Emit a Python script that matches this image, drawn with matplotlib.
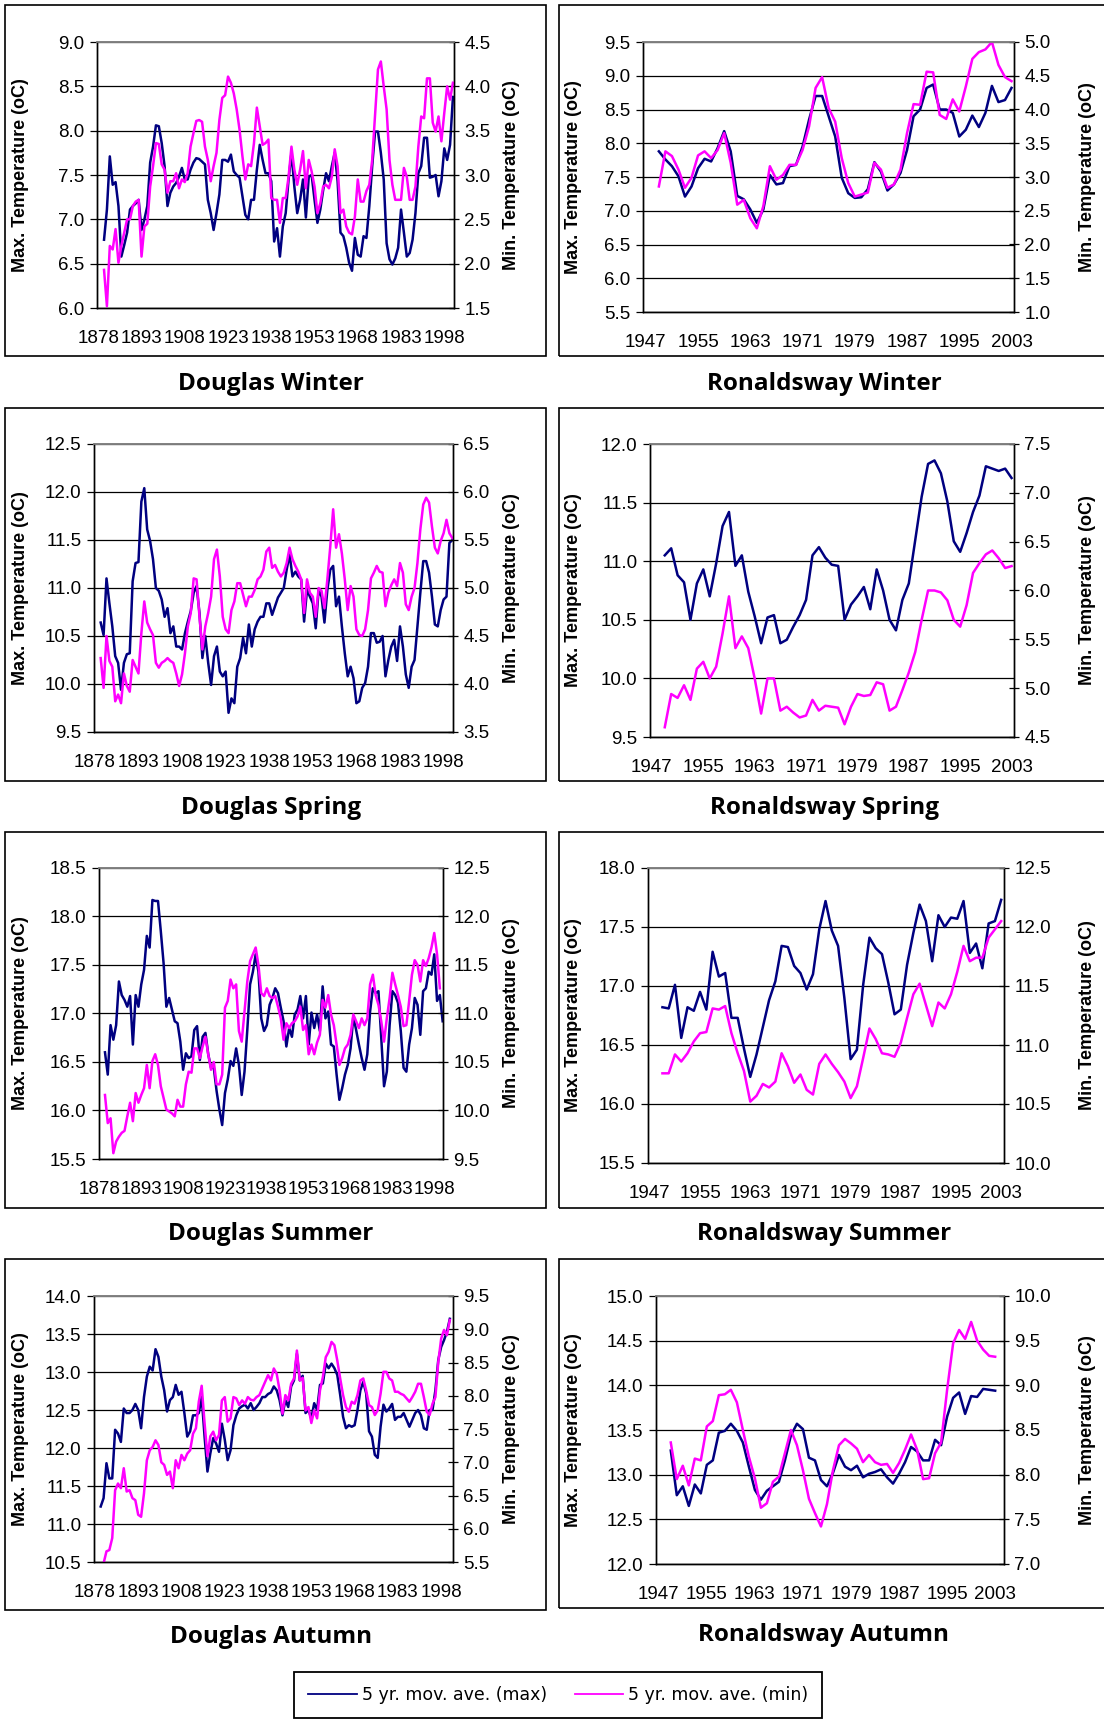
import matplotlib.pyplot as plt
import numpy as np
from matplotlib.patches import Rectangle
from matplotlib.lines import Line2D
from matplotlib.ticker import FormatStrFormatter

W, H = 1104, 1719
MAX_COLOR = '#000080'
MIN_COLOR = '#ff00ff'

plt.rcParams['font.family'] = ['Liberation Sans', 'DejaVu Sans']

# ---- data (5 yr moving averages) ----
douglas_years = np.arange(1880, 2002)
ronaldsway_years = np.arange(1949, 2004)

dw_max = [6.77, 7.11, 7.71, 7.39, 7.42, 7.15, 6.58, 6.71, 6.85, 7.11,
          7.15, 7.18, 7.22, 6.88, 7.0, 7.15, 7.64, 7.82, 8.06, 8.05,
          7.86, 7.6, 7.15, 7.3, 7.37, 7.41, 7.48, 7.58, 7.45, 7.45,
          7.56, 7.64, 7.69, 7.68, 7.65, 7.62, 7.22, 7.07, 6.88, 7.07,
          7.28, 7.67, 7.67, 7.65, 7.73, 7.54, 7.5, 7.47, 7.26, 7.05,
          7.0, 7.22, 7.22, 7.56, 7.84, 7.67, 7.52, 7.52, 7.43, 6.75,
          6.9, 6.58, 6.92, 7.07, 7.45, 7.75, 7.37, 7.07, 7.22, 7.45,
          7.02, 7.48, 7.5, 7.22, 6.96, 7.11, 7.33, 7.52, 7.43, 7.6,
          7.75, 7.43, 6.85, 6.81, 6.68, 6.51, 6.42, 6.79, 6.6, 6.58,
          6.81, 6.79, 7.15, 7.6, 7.99, 7.99, 7.75, 7.45, 6.73, 6.55,
          6.49, 6.56, 6.68, 7.11, 6.85, 6.58, 6.62, 6.77, 7.07, 7.52,
          7.6, 7.92, 7.92, 7.47, 7.48, 7.5, 7.26, 7.43, 7.8, 7.67,
          7.84, 8.38]
dw_min = [1.93, 1.52, 2.2, 2.16, 2.39, 2.01, 2.2, 2.35, 2.5, 2.5,
          2.65, 2.7, 2.72, 2.08, 2.42, 2.45, 2.87, 3.1, 3.36, 3.35,
          3.12, 3.06, 2.8, 2.93, 2.93, 3.02, 2.85, 2.95, 2.92, 3.02,
          3.32, 3.47, 3.61, 3.62, 3.6, 3.32, 3.17, 2.93, 3.1, 3.25,
          3.62, 3.87, 3.9, 4.11, 4.04, 3.92, 3.74, 3.51, 3.21, 2.95,
          3.12, 3.1, 3.36, 3.76, 3.55, 3.34, 3.36, 3.4, 2.74, 2.72,
          2.72, 2.46, 2.74, 2.74, 2.98, 3.32, 3.06, 2.89, 3.06, 3.27,
          2.85, 3.17, 3.04, 2.87, 2.57, 2.68, 2.87, 2.89, 2.85, 2.98,
          3.29, 3.1, 2.57, 2.61, 2.42, 2.35, 2.33, 2.53, 2.95, 2.7,
          2.7, 2.82, 2.89, 3.17, 3.68, 4.19, 4.28, 4.0, 3.74, 3.17,
          2.89, 2.72, 2.72, 2.72, 3.08, 2.98, 2.72, 2.72, 2.87, 3.32,
          3.66, 3.64, 4.09, 4.09, 3.59, 3.49, 3.66, 3.38, 3.7, 4.0,
          3.85, 4.04]

dsp_max = [10.64, 10.51, 11.1, 10.84, 10.6, 10.29, 10.22, 9.94, 10.22, 10.31,
           10.32, 11.07, 11.26, 11.27, 11.9, 12.04, 11.61, 11.49, 11.3, 11.0,
           10.97, 10.88, 10.7, 10.79, 10.53, 10.6, 10.39, 10.39, 10.36, 10.53,
           10.65, 10.76, 10.95, 11.02, 10.74, 10.27, 10.5, 10.22, 9.99, 10.29,
           10.39, 10.13, 10.08, 10.13, 9.7, 9.85, 9.8, 10.18, 10.27, 10.48,
           10.32, 10.62, 10.39, 10.57, 10.65, 10.7, 10.7, 10.84, 10.84, 10.72,
           10.81, 10.9, 10.95, 11.0, 11.19, 11.35, 11.12, 11.17, 11.12, 11.09,
           10.65, 10.98, 10.91, 10.84, 10.58, 10.98, 10.91, 10.64, 10.98, 11.19,
           11.23, 10.81, 10.91, 10.6, 10.32, 10.08, 10.18, 10.06, 9.8, 9.82,
           9.96, 10.01, 10.18, 10.53, 10.53, 10.43, 10.44, 10.5, 10.08, 10.25,
           10.39, 10.46, 10.24, 10.6, 10.39, 10.1, 9.96, 10.18, 10.25, 10.6,
           10.95, 11.28, 11.28, 11.16, 10.91, 10.62, 10.6, 10.77, 10.88, 10.91,
           11.47, 11.5]
dsp_min = [4.27, 3.96, 4.5, 4.24, 4.18, 3.82, 3.89, 3.8, 4.11, 3.98,
           3.92, 4.25, 4.18, 4.11, 4.53, 4.86, 4.64, 4.57, 4.51, 4.22,
           4.17, 4.22, 4.24, 4.27, 4.24, 4.22, 4.11, 3.98, 4.1, 4.32,
           4.6, 4.74, 5.1, 5.09, 4.7, 4.36, 4.6, 4.74, 4.91, 5.3,
           5.4, 5.12, 4.7, 4.57, 4.53, 4.77, 4.86, 5.05, 5.05, 4.93,
           4.81, 4.91, 4.91, 4.98, 5.09, 5.12, 5.19, 5.38, 5.42, 5.21,
           5.24, 5.17, 5.12, 5.16, 5.26, 5.42, 5.3, 5.23, 5.17, 5.09,
           4.74, 5.09, 4.95, 4.91, 4.7, 5.0, 4.97, 4.79, 5.09, 5.43,
           5.82, 5.42, 5.56, 5.36, 5.09, 4.77, 5.02, 4.91, 4.57, 4.51,
           4.5, 4.57, 4.77, 5.1, 5.16, 5.23, 5.17, 5.16, 4.81, 4.95,
           5.03, 5.09, 5.02, 5.26, 5.16, 4.83, 4.77, 4.91, 5.0, 5.26,
           5.61, 5.87, 5.94, 5.89, 5.64, 5.42, 5.36, 5.49, 5.57, 5.71,
           5.57, 5.52]

dsu_max = [16.6, 16.37, 16.88, 16.73, 16.88, 17.33, 17.19, 17.14, 17.07, 17.18,
           16.68, 17.19, 17.07, 17.3, 17.45, 17.8, 17.68, 18.17, 18.16, 18.16,
           17.85, 17.52, 17.07, 17.16, 17.04, 16.92, 16.9, 16.71, 16.42, 16.59,
           16.54, 16.56, 16.83, 16.87, 16.52, 16.76, 16.8, 16.58, 16.44, 16.44,
           16.2, 16.01, 15.85, 16.18, 16.32, 16.51, 16.46, 16.64, 16.47, 16.16,
           16.4, 16.83, 17.3, 17.43, 17.61, 17.43, 16.95, 16.82, 16.88, 17.09,
           17.16, 17.26, 17.21, 17.06, 16.92, 16.66, 16.85, 16.76, 16.99, 17.04,
           17.18, 16.95, 17.18, 16.68, 17.01, 16.85, 16.99, 16.82, 17.28, 16.95,
           17.02, 16.68, 16.66, 16.37, 16.11, 16.23, 16.37, 16.47, 16.64, 16.97,
           16.83, 16.68, 16.54, 16.42, 16.58, 17.02, 17.26, 17.21, 17.23, 16.75,
           16.25, 16.4, 16.88, 17.23, 17.19, 17.11, 16.82, 16.44, 16.4, 16.68,
           16.85, 17.16, 17.09, 16.78, 17.23, 17.26, 17.43, 17.4, 17.61, 17.13,
           17.19, 16.92]
dsu_min = [10.16, 9.87, 9.92, 9.56, 9.68, 9.73, 9.77, 9.79, 9.94, 10.08,
           9.89, 10.18, 10.08, 10.16, 10.23, 10.47, 10.23, 10.51, 10.58, 10.47,
           10.25, 10.13, 10.01, 9.99, 9.97, 9.94, 10.11, 10.04, 10.04, 10.27,
           10.4, 10.39, 10.64, 10.64, 10.54, 10.66, 10.76, 10.58, 10.42, 10.5,
           10.27, 10.27, 10.37, 11.06, 11.13, 11.35, 11.26, 11.3, 10.82, 10.71,
           11.02, 11.33, 11.54, 11.61, 11.68, 11.5, 11.21, 11.18, 11.26, 11.18,
           11.16, 11.18, 11.07, 10.95, 10.73, 10.9, 10.85, 10.9, 10.92, 10.97,
           11.07, 10.83, 10.88, 10.58, 10.68, 10.58, 10.7, 10.78, 11.14, 11.06,
           11.19, 10.99, 10.88, 10.68, 10.47, 10.54, 10.64, 10.68, 10.78, 10.99,
           10.92, 10.85, 10.95, 10.88, 10.95, 11.3, 11.4, 11.19, 11.09, 10.92,
           10.71, 10.95, 11.16, 11.42, 11.3, 11.19, 11.07, 10.87, 10.88, 11.13,
           11.4, 11.55, 11.5, 11.33, 11.55, 11.49, 11.57, 11.68, 11.83, 11.61,
           11.26, np.nan]

da_max = [11.23, 11.34, 11.8, 11.6, 11.6, 12.24, 12.19, 12.08, 12.52, 12.46,
          12.46, 12.5, 12.58, 12.5, 12.26, 12.67, 12.94, 13.07, 13.02, 13.3,
          13.2, 12.94, 12.76, 12.48, 12.63, 12.67, 12.83, 12.7, 12.74, 12.46,
          12.15, 12.22, 12.43, 12.43, 12.46, 12.67, 12.15, 11.69, 11.93, 12.13,
          12.06, 11.95, 12.32, 12.11, 11.84, 11.97, 12.3, 12.43, 12.52, 12.55,
          12.57, 12.52, 12.59, 12.5, 12.54, 12.59, 12.67, 12.67, 12.71, 12.73,
          12.81, 12.76, 12.63, 12.43, 12.63, 12.54, 12.81, 12.89, 13.24, 12.89,
          12.95, 12.46, 12.5, 12.39, 12.59, 12.5, 12.83, 12.85, 13.11, 13.05,
          13.11, 13.05, 12.96, 12.7, 12.41, 12.26, 12.3, 12.28, 12.3, 12.5,
          12.76, 12.87, 12.72, 12.22, 12.15, 11.91, 11.87, 12.28, 12.57, 12.48,
          12.52, 12.58, 12.37, 12.41, 12.41, 12.46, 12.37, 12.28, 12.37, 12.46,
          12.5, 12.43, 12.26, 12.24, 12.5, 12.5, 12.76, 13.16, 13.33, 13.42,
          13.53, 13.7]
da_min = [np.nan, 5.48, 5.66, 5.68, 5.86, 6.58, 6.68, 6.61, 6.91, 6.56,
          6.58, 6.46, 6.43, 6.21, 6.18, 6.53, 7.03, 7.18, 7.23, 7.33,
          7.26, 7.0, 6.96, 6.81, 6.86, 6.61, 7.03, 6.91, 7.11, 7.03,
          7.13, 7.18, 7.43, 7.51, 7.91, 8.15, 7.59, 7.09, 7.39, 7.46,
          7.33, 7.41, 7.93, 7.98, 7.61, 7.66, 7.98, 7.96, 7.86, 7.93,
          7.88, 7.98, 7.94, 7.93, 7.98, 8.01, 8.11, 8.21, 8.31, 8.23,
          8.41, 8.33, 8.08, 7.73, 8.01, 7.93, 8.18, 8.26, 8.68, 8.23,
          8.27, 7.78, 7.83, 7.59, 7.78, 7.66, 8.08, 8.28, 8.58, 8.66,
          8.81, 8.76, 8.53, 8.26, 8.01, 7.83, 7.76, 7.91, 7.88, 8.01,
          8.23, 8.26, 8.08, 7.86, 7.83, 7.71, 7.78, 8.03, 8.36, 8.36,
          8.26, 8.23, 8.06, 8.06, 8.03, 8.01, 7.96, 7.91, 7.98, 8.06,
          8.18, 8.18, 7.98, 7.76, 7.71, 7.88, 7.98, 8.51, 8.86, 8.99,
          8.91, 9.14]

rw_max = [7.88, 7.76, 7.66, 7.51, 7.21, 7.36, 7.63, 7.77, 7.73, 7.93,
          8.18, 7.88, 7.22, 7.17, 7.02, 6.82, 7.02, 7.53, 7.39, 7.41,
          7.66, 7.68, 7.95, 8.35, 8.7, 8.7, 8.4, 8.1, 7.49, 7.26,
          7.19, 7.2, 7.32, 7.72, 7.58, 7.3, 7.39, 7.56, 7.9, 8.4,
          8.5, 8.82, 8.87, 8.5, 8.5, 8.45, 8.1, 8.2, 8.41, 8.24,
          8.45, 8.85, 8.61, 8.64, 8.82]
rw_min = [2.86, 3.38, 3.31, 3.11, 2.84, 2.99, 3.32, 3.38, 3.28, 3.4,
          3.65, 3.21, 2.59, 2.66, 2.39, 2.24, 2.57, 3.16, 2.96, 3.03,
          3.18, 3.18, 3.4, 3.75, 4.32, 4.48, 4.02, 3.82, 3.28, 2.91,
          2.71, 2.74, 2.77, 3.21, 3.11, 2.84, 2.89, 3.11, 3.65, 4.08,
          4.07, 4.56, 4.55, 3.92, 3.86, 4.15, 3.97, 4.34, 4.75, 4.85,
          4.89, 5.0, 4.66, 4.48, 4.42]

rsp_max = [11.05, 11.11, 10.88, 10.82, 10.5, 10.81, 10.93, 10.7, 10.98, 11.3,
           11.42, 10.96, 11.05, 10.74, 10.53, 10.3, 10.52, 10.54, 10.3, 10.33,
           10.44, 10.54, 10.67, 11.05, 11.12, 11.03, 10.97, 10.96, 10.5, 10.63,
           10.7, 10.78, 10.59, 10.93, 10.75, 10.5, 10.41, 10.67, 10.81, 11.18,
           11.55, 11.83, 11.86, 11.75, 11.51, 11.17, 11.08, 11.24, 11.42, 11.56,
           11.81, 11.79, 11.77, 11.79, 11.71]
rsp_min = [4.6, 4.94, 4.9, 5.03, 4.88, 5.2, 5.27, 5.1, 5.22, 5.56,
           5.94, 5.41, 5.53, 5.41, 5.1, 4.74, 5.1, 5.1, 4.77, 4.81,
           4.75, 4.7, 4.72, 4.88, 4.77, 4.82, 4.81, 4.8, 4.63, 4.81,
           4.94, 4.92, 4.93, 5.06, 5.04, 4.77, 4.81, 4.98, 5.16, 5.37,
           5.7, 6.0, 6.0, 5.98, 5.9, 5.7, 5.63, 5.85, 6.18, 6.28,
           6.37, 6.41, 6.33, 6.23, 6.25]

rsu_max = [16.82, 16.81, 17.01, 16.56, 16.82, 16.79, 16.95, 16.8, 17.29, 17.08,
           17.11, 16.73, 16.73, 16.47, 16.23, 16.42, 16.65, 16.88, 17.04, 17.34,
           17.33, 17.17, 17.11, 16.97, 17.1, 17.48, 17.72, 17.47, 17.34, 16.9,
           16.38, 16.46, 17.01, 17.41, 17.32, 17.27, 17.03, 16.76, 16.8, 17.18,
           17.45, 17.69, 17.55, 17.21, 17.6, 17.5, 17.58, 17.57, 17.72, 17.28,
           17.36, 17.15, 17.53, 17.55, 17.73]
rsu_min = [10.76, 10.76, 10.92, 10.86, 10.93, 11.03, 11.1, 11.11, 11.31, 11.3,
           11.33, 11.1, 10.93, 10.78, 10.52, 10.57, 10.67, 10.64, 10.69, 10.93,
           10.82, 10.68, 10.75, 10.62, 10.58, 10.84, 10.92, 10.84, 10.77, 10.69,
           10.55, 10.65, 10.89, 11.14, 11.05, 10.93, 10.92, 10.9, 11.02, 11.23,
           11.43, 11.52, 11.34, 11.16, 11.36, 11.31, 11.43, 11.62, 11.84, 11.71,
           11.74, 11.74, 11.91, 11.98, 12.05]

ra_max = [13.27, 12.77, 12.87, 12.65, 12.89, 12.79, 13.11, 13.16, 13.47, 13.49,
          13.57, 13.49, 13.36, 13.09, 12.83, 12.72, 12.82, 12.87, 12.92, 13.16,
          13.44, 13.57, 13.51, 13.19, 13.16, 12.94, 12.87, 13.02, 13.22, 13.09,
          13.05, 13.1, 12.97, 13.01, 13.03, 13.06, 12.97, 12.9, 13.01, 13.14,
          13.31, 13.26, 13.16, 13.16, 13.39, 13.33, 13.65, 13.86, 13.92, 13.68,
          13.88, 13.87, 13.96, 13.95, 13.94]
ra_min = [8.36, 7.95, 8.1, 7.88, 8.18, 8.16, 8.54, 8.6, 8.89, 8.9,
          8.95, 8.81, 8.5, 8.2, 7.96, 7.63, 7.68, 7.92, 7.98, 8.24,
          8.5, 8.33, 8.05, 7.73, 7.57, 7.42, 7.67, 8.05, 8.33, 8.4,
          8.35, 8.29, 8.14, 8.22, 8.14, 8.11, 8.12, 8.02, 8.13, 8.28,
          8.45, 8.28, 7.95, 7.96, 8.24, 8.36, 8.95, 9.47, 9.62, 9.52,
          9.71, 9.5, 9.4, 9.33, 9.32]

douglas_ticks = [1878, 1893, 1908, 1923, 1938, 1953, 1968, 1983, 1998]
ronaldsway_ticks = [1947, 1955, 1963, 1971, 1979, 1987, 1995, 2003]
legend_labels = ['5 yr. mov. ave. (max)', '5 yr. mov. ave. (min)']

fig = plt.figure(figsize=(W / 100, H / 100), dpi=100)


def px_rect(x0, y0, x1, y1):
    return [x0 / W, 1 - y1 / H, (x1 - x0) / W, (y1 - y0) / H]


def draw_panel(title, rect, frame, title_xy, label_x, years, vmax, vmin,
               left_lim, right_lim, xlim, xticks):
    # outer frame of the chart object
    fx0, fy0, fx1, fy1 = frame
    fig.add_artist(Rectangle((fx0 / W, 1 - fy1 / H), (fx1 - fx0) / W, (fy1 - fy0) / H,
                             transform=fig.transFigure, fill=False,
                             edgecolor='black', linewidth=1.2))

    ax = fig.add_axes(px_rect(*rect))
    ax2 = ax.twinx()
    ax.plot(years, vmax, color=MAX_COLOR, lw=1.8)
    ax2.plot(years, vmin, color=MIN_COLOR, lw=1.8)

    ax.set_xlim(*xlim)
    ax.set_xticks(xticks)
    ax.set_xticklabels([str(t) for t in xticks])
    ax.set_ylim(*left_lim)
    ax.set_yticks(np.arange(left_lim[0], left_lim[1] + 0.01, 0.5))
    ax2.set_ylim(*right_lim)
    ax2.set_yticks(np.arange(right_lim[0], right_lim[1] + 0.01, 0.5))
    for a in (ax, ax2):
        a.yaxis.set_major_formatter(FormatStrFormatter('%.1f'))
        for side in ('left', 'bottom', 'right'):
            a.spines[side].set_color('black')
            a.spines[side].set_linewidth(1.0)
        a.spines['top'].set_color('#808080')
        a.spines['top'].set_linewidth(1.2)

    ax.yaxis.grid(True, color='black', linewidth=0.9)
    ax.set_axisbelow(True)
    ax.tick_params(axis='x', length=0, pad=16, labelsize=13.5)
    ax.tick_params(axis='y', direction='out', length=5, width=0.9,
                   pad=4, labelsize=13.5)
    ax2.tick_params(axis='y', direction='inout', length=7, width=0.9,
                    pad=4, labelsize=13.5)

    x0, y0, x1, y1 = rect
    yc = 1 - (y0 + y1) / 2 / H
    fig.text(label_x[0] / W, yc, 'Max. Temperature (oC)', rotation=90,
             ha='center', va='center', fontsize=13, fontweight='bold')
    fig.text(label_x[1] / W, yc, 'Min. Temperature (oC)', rotation=90,
             ha='center', va='center', fontsize=13, fontweight='bold')
    fig.text(title_xy[0] / W, 1 - title_xy[1] / H, title, ha='center', va='center',
             fontsize=17.5, fontweight='bold', family='Open Sans')


d_lab = (21, 512)
r_lab = (573, 1087)
d_frame_x = (5.5, 546)
r_frame_x = (559, 1112)

draw_panel('Douglas Winter', (97, 42, 454, 308), (d_frame_x[0], 5.5, d_frame_x[1], 356),
           (271, 384), d_lab, douglas_years, dw_max, dw_min,
           (6.0, 9.0), (1.5, 4.5), (1877.56, 2001.37), douglas_ticks)
draw_panel('Ronaldsway Winter', (643, 42, 1014, 312), (r_frame_x[0], 5.5, r_frame_x[1], 356),
           (824, 384), r_lab, ronaldsway_years, rw_max, rw_min,
           (5.5, 9.5), (1.0, 5.0), (1946.57, 2003.38), ronaldsway_ticks)

draw_panel('Douglas Spring', (94, 444, 453, 732), (d_frame_x[0], 408, d_frame_x[1], 781),
           (271, 808), d_lab, douglas_years, dsp_max, dsp_min,
           (9.5, 12.5), (3.5, 6.5), (1877.7, 2001.24), douglas_ticks)
draw_panel('Ronaldsway Spring', (650, 444, 1014, 737), (r_frame_x[0], 408, r_frame_x[1], 781),
           (824, 808), r_lab, ronaldsway_years, rsp_max, rsp_min,
           (9.5, 12.0), (4.5, 7.5), (1946.7, 2003.38), ronaldsway_ticks)

draw_panel('Douglas Summer', (99, 868, 443, 1159), (d_frame_x[0], 832, d_frame_x[1], 1208),
           (271, 1234), d_lab, douglas_years, dsu_max, dsu_min,
           (15.5, 18.5), (9.5, 12.5), (1877.86, 2001.13), douglas_ticks)
draw_panel('Ronaldsway Summer', (648, 868, 1004, 1163), (r_frame_x[0], 832, r_frame_x[1], 1208),
           (824, 1234), r_lab, ronaldsway_years, rsu_max, rsu_min,
           (15.5, 18.0), (10.0, 12.5), (1946.7, 2003.45), ronaldsway_ticks)

draw_panel('Douglas Autumn', (94, 1296, 453, 1562), (d_frame_x[0], 1259, d_frame_x[1], 1610),
           (271, 1637), d_lab, douglas_years, da_max, da_min,
           (10.5, 14.0), (5.5, 9.5), (1877.68, 2002.1), douglas_ticks)
draw_panel('Ronaldsway Autumn', (656, 1296, 1004, 1564), (r_frame_x[0], 1259, r_frame_x[1], 1608),
           (824, 1635), r_lab, ronaldsway_years, ra_max, ra_min,
           (12.0, 15.0), (7.0, 10.0), (1946.54, 2004.47), ronaldsway_ticks)

handles = [Line2D([], [], color=MAX_COLOR, lw=1.3), Line2D([], [], color=MIN_COLOR, lw=1.3)]
leg = fig.legend(handles, legend_labels, loc='upper left',
                 bbox_to_anchor=(294 / W, 1 - 1672 / H), ncol=2, frameon=True,
                 fancybox=False, edgecolor='black', framealpha=1,
                 prop={'family': 'DejaVu Sans', 'size': 12.5},
                 handlelength=2.8, handletextpad=0.3, columnspacing=1.6,
                 borderpad=0.8, borderaxespad=0)
leg.get_frame().set_linewidth(1.3)

fig.savefig('out.png', dpi=100)
